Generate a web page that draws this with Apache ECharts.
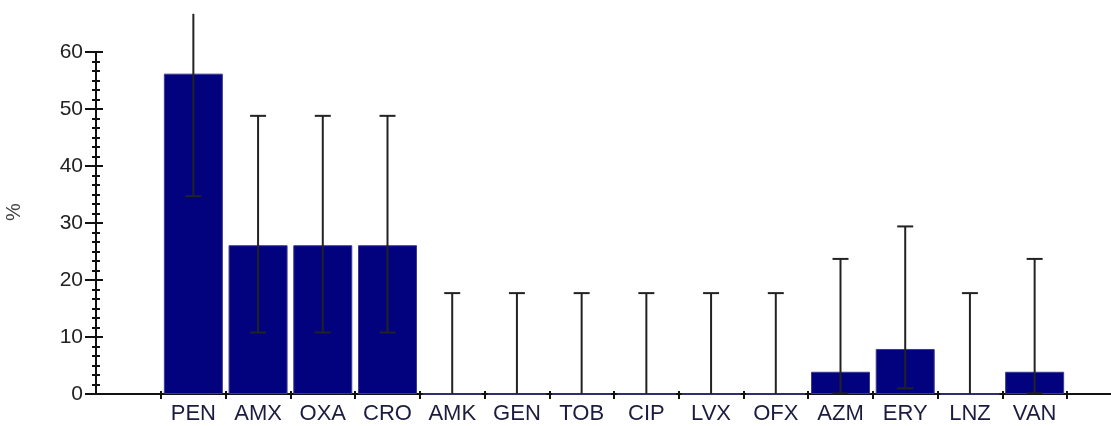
<!DOCTYPE html>
<html>
<head>
<meta charset="utf-8">
<script src="https://cdn.jsdelivr.net/npm/echarts@6/dist/echarts.min.js"></script>
<style>
html,body{margin:0;padding:0;background:#fff;}
#chart{width:1111px;height:426px;}
</style>
</head>
<body>
<div id="chart"></div>
<script>
const categories = ['PEN','AMX','OXA','CRO','AMK','GEN','TOB','CIP','LVX','OFX','AZM','ERY','LNZ','VAN'];
const values = [56.2, 26.1, 26.1, 26.1, 0, 0, 0, 0, 0, 0, 3.9, 7.9, 0, 3.9];
const lowerCI = [34.7, 10.8, 10.8, 10.8, 0, 0, 0, 0, 0, 0, 0.1, 1.0, 0, 0.1];
const upperCI = [66.7, 48.8, 48.8, 48.8, 17.7, 17.7, 17.7, 17.7, 17.7, 17.7, 23.7, 29.4, 17.7, 23.7];
const yMin = 0, yMax = 60, yInterval = 10;
const yAxisName = '%';

const FONT = "'Liberation Sans', Arial, sans-serif";
const AXIS_COLOR = '#111';

const chart = echarts.init(document.getElementById('chart'));

function renderErrorBar(params, api) {
  const i = api.value(0);
  const lo = api.value(1);
  const hi = api.value(2);
  const pLo = api.coord([i, lo]);
  const pHi = api.coord([i, hi]);
  const half = 8;
  const st = { stroke: '#222', lineWidth: 2 };
  const children = [
    { type: 'line', shape: { x1: pLo[0], y1: pLo[1], x2: pHi[0], y2: pHi[1] }, style: st }
  ];
  if (hi <= yMax) {
    children.push({ type: 'line', shape: { x1: pHi[0] - half, y1: pHi[1], x2: pHi[0] + half, y2: pHi[1] }, style: st });
  }
  if (lo > 0) {
    children.push({ type: 'line', shape: { x1: pLo[0] - half, y1: pLo[1], x2: pLo[0] + half, y2: pLo[1] }, style: st });
  }
  return { type: 'group', children: children };
}

const option = {
  animation: false,
  backgroundColor: '#fff',
  grid: [
    { left: 96, right: 0, top: 52, height: 342, containLabel: false, outerBoundsMode: 'none' },
    { left: 161, width: 906, top: 52, height: 342, containLabel: false, outerBoundsMode: 'none' }
  ],
  xAxis: [
    {
      type: 'value', gridIndex: 0, min: 0, max: 1, position: 'bottom',
      axisLine: { show: true, lineStyle: { color: AXIS_COLOR, width: 2 } },
      axisTick: { show: false }, axisLabel: { show: false }, splitLine: { show: false }
    },
    {
      type: 'category', gridIndex: 1, data: categories, position: 'bottom',
      axisLine: { show: false },
      axisTick: { show: true, length: 5, lineStyle: { color: AXIS_COLOR, width: 2 } },
      axisLabel: { margin: 9, fontSize: 22, fontFamily: FONT, color: '#1c1c40' },
      splitLine: { show: false }
    },
    {
      type: 'category', gridIndex: 1, data: categories, position: 'bottom',
      axisLine: { show: false },
      axisTick: { show: true, inside: true, length: 3, lineStyle: { color: AXIS_COLOR, width: 2 } },
      axisLabel: { show: false },
      splitLine: { show: false }
    }
  ],
  yAxis: [
    {
      type: 'value', gridIndex: 0, min: yMin, max: yMax, interval: yInterval, position: 'left',
      name: yAxisName, nameLocation: 'middle', nameGap: 72, nameRotate: 90,
      nameTextStyle: { fontSize: 20, fontFamily: FONT, color: '#444', padding: [0, 0, 0, 22] },
      axisLine: { show: true, lineStyle: { color: AXIS_COLOR, width: 2 } },
      axisTick: { show: true, length: 11, lineStyle: { color: AXIS_COLOR, width: 2 } },
      minorTick: { show: true, splitNumber: 6, length: 4, lineStyle: { color: AXIS_COLOR, width: 2 } },
      axisLabel: { margin: 13, fontSize: 21, fontFamily: FONT, color: '#222' },
      splitLine: { show: false }, minorSplitLine: { show: false }
    },
    {
      type: 'value', gridIndex: 0, min: yMin, max: yMax, interval: yInterval, position: 'left', offset: 0,
      axisLine: { show: false },
      axisTick: { show: true, inside: true, length: 7, lineStyle: { color: AXIS_COLOR, width: 2 } },
      minorTick: { show: true, splitNumber: 6, length: 4, lineStyle: { color: AXIS_COLOR, width: 2 } },
      axisLabel: { show: false },
      splitLine: { show: false }
    },
    {
      type: 'value', gridIndex: 1, min: yMin, max: yMax, show: false, splitLine: { show: false }
    }
  ],
  series: [
    {
      type: 'bar', xAxisIndex: 1, yAxisIndex: 2, data: values, barWidth: 59,
      itemStyle: { color: '#02027f', borderColor: '#3a3a90', borderWidth: 1 },
      z: 2
    },
    {
      type: 'custom', xAxisIndex: 1, yAxisIndex: 2,
      renderItem: renderErrorBar,
      clip: false,
      data: categories.map((c, i) => [i, lowerCI[i], upperCI[i]]),
      encode: { x: 0, y: [1, 2] },
      z: 5
    }
  ]
};
chart.setOption(option);
</script>
</body>
</html>
